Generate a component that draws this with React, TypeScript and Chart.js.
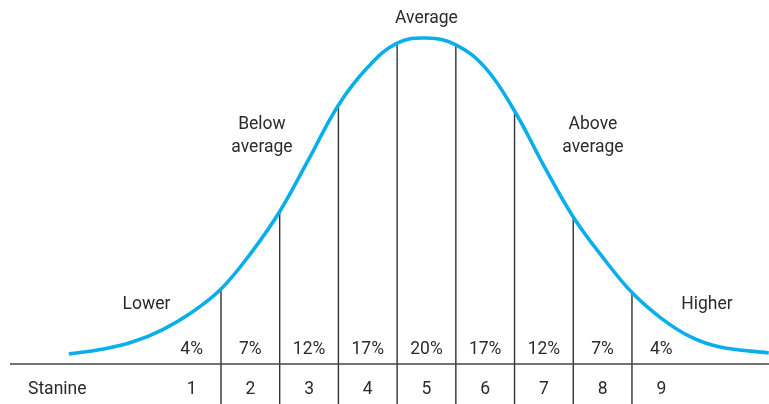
import React, { useEffect, useRef } from "react";
import { Chart, registerables } from "chart.js";

Chart.register(...registerables);

// Bell curve (x in stanine units, y relative height, peak = 100)
const curveX = [-1.09, -0.5, 0, 0.5, 1.0, 1.5, 2.0, 2.5, 3.0, 3.5, 4.0, 4.5, 5.0, 5.5, 6.0, 6.5, 7.0, 7.5, 8.0, 8.5, 9.0, 9.5, 10.0, 10.83];
const curveY = [3.1, 4.6, 6.8, 10.5, 15.8, 23.0, 33.8, 46.8, 63.0, 79.4, 91.0, 98.4, 100, 97.9, 90.9, 77.6, 60.8, 45.1, 32.8, 21.9, 14.0, 8.3, 5.2, 3.4];

// Stanine categories, their share and the boundaries between them
const stanines = ["1", "2", "3", "4", "5", "6", "7", "8", "9"];
const stanineValues = [1, 2, 3, 4, 5, 6, 7, 8, 9];
const percents = ["4%", "7%", "12%", "17%", "20%", "17%", "12%", "7%", "4%"];
const boundaries = [1.5, 2.5, 3.5, 4.5, 5.5, 6.5, 7.5, 8.5];

const axisTitle = "Stanine";
const zoneTexts = [["Lower"], ["Below", "average"], ["Average"], ["Above", "average"], ["Higher"]];

const X_MIN = -2.264;
const X_MAX = 10.834;
const Y_MIN = -12.27;
const Y_MAX = 111.66;

const TEXT_COLOR = "#2b2b2b";
const FONT = "17.5px Roboto, 'Noto Sans', sans-serif";

const curveAt = (u: number) => {
  const i = curveX.indexOf(u);
  return i >= 0 ? curveY[i] : 0;
};

export default function App() {
  const ref = useRef<HTMLCanvasElement | null>(null);

  useEffect(() => {
    if (!ref.current) return;

    const curveData = curveX.map((x, i) => ({ x, y: curveY[i] }));
    const boundarySets = boundaries.map((b) => ({
      type: "scatter" as const,
      data: [
        { x: b, y: curveAt(b) },
        { x: b, y: Y_MIN },
      ],
      showLine: true,
      borderColor: "#333333",
      borderWidth: 1.4,
      pointRadius: 0,
      order: 2,
    }));

    const labelsPlugin = {
      id: "stanineLabels",
      afterDatasetsDraw(chart: any) {
        const { ctx, scales } = chart;
        const px = (u: number) => scales.x.getPixelForValue(u);
        const py = (v: number) => scales.y.getPixelForValue(v);
        ctx.save();
        ctx.fillStyle = TEXT_COLOR;
        ctx.font = FONT;
        ctx.textBaseline = "alphabetic";
        ctx.textAlign = "center";

        // percentages and stanine numbers
        stanineValues.forEach((s, i) => {
          ctx.fillText(percents[i], px(s), py(3.07));
          ctx.fillText(stanines[i], px(s), py(-9.2));
        });

        // axis title
        ctx.textAlign = "left";
        ctx.fillText(axisTitle, px(-1.787), py(-9.2));

        // zone texts
        ctx.textAlign = "center";
        const zonePos = [
          { u: 0.231, v: 16.9 },
          { u: 2.198, v: 72.1 },
          { u: 5.0, v: 104.6 },
          { u: 7.836, v: 72.1 },
          { u: 9.778, v: 16.9 },
        ];
        zoneTexts.forEach((lines, i) => {
          const x = px(zonePos[i].u);
          const y0 = py(zonePos[i].v);
          lines.forEach((t, j) => ctx.fillText(t, x, y0 + j * 23));
        });
        ctx.restore();
      },
    };

    const chart = new Chart(ref.current, {
      type: "scatter",
      data: {
        datasets: [
          {
            type: "scatter",
            data: curveData,
            showLine: true,
            borderColor: "#0aaeea",
            borderWidth: 3.6,
            pointRadius: 0,
            tension: 0.4,
            order: 0,
          } as any,
          {
            type: "scatter",
            data: [
              { x: -2.094, y: 0 },
              { x: X_MAX, y: 0 },
            ],
            showLine: true,
            borderColor: "#444444",
            borderWidth: 1.7,
            pointRadius: 0,
            order: 1,
          },
          ...boundarySets,
        ],
      },
      options: {
        animation: false,
        responsive: false,
        maintainAspectRatio: false,
        devicePixelRatio: 1,
        layout: { padding: 0 },
        plugins: {
          legend: { display: false },
          tooltip: { enabled: false },
          title: { display: false },
        },
        scales: {
          x: { type: "linear", min: X_MIN, max: X_MAX, display: false },
          y: { type: "linear", min: Y_MIN, max: Y_MAX, display: false },
        },
      },
      plugins: [labelsPlugin],
    });

    return () => chart.destroy();
  }, []);

  return (
    <div style={{ position: "fixed", left: 0, top: 0, width: 769, height: 404, background: "#ffffff" }}>
      <canvas ref={ref} width={769} height={404} style={{ width: 769, height: 404, display: "block" }} />
    </div>
  );
}
